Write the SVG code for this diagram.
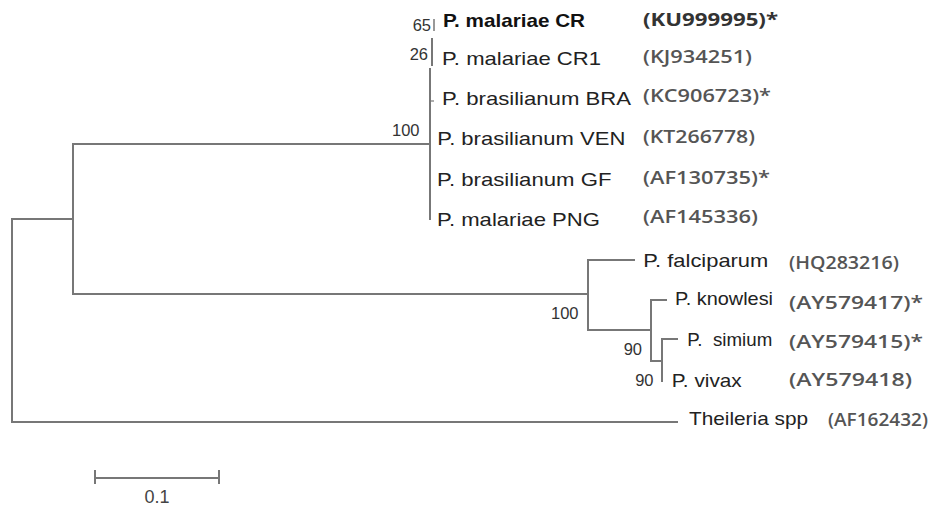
<svg xmlns="http://www.w3.org/2000/svg" width="935" height="508" viewBox="0 0 935 508">
<style>
.br{fill:none;stroke:#777;stroke-width:2}
.sp{font-family:"Liberation Sans",Arial,sans-serif;font-size:18.6px;fill:#222}
.spb{font-family:"Liberation Sans",Arial,sans-serif;font-size:18.6px;font-weight:bold;fill:#111}
.acc{font-family:"Open Sans","Liberation Sans",sans-serif;font-size:18px;font-weight:600;fill:#555}
.acc0{font-family:"Open Sans","Liberation Sans",sans-serif;font-size:18px;font-weight:700;fill:#333}
.bs{font-family:"Liberation Sans",Arial,sans-serif;font-size:16.5px;fill:#333;text-anchor:end}
</style>
<rect width="935" height="508" fill="#fff"/>
<g id="connectors">
<path class="br" d="M73,219 H12 V422 H678"/>
<path class="br" d="M430,144 H73 V294 H588"/>
<path class="br" d="M430,68 V220"/>
<path class="br" d="M430,101 H434" style="stroke-width:1.2"/>
<path class="br" d="M432,38 V66"/>
<path class="br" d="M434,19 V31" style="stroke-width:1.5"/>
<path class="br" d="M635,260 H588 V330 H651"/>
<path class="br" d="M667,300 H651 V361 H663"/>
<path class="br" d="M678,339 H662 V382"/>
</g>
<g id="bootstrap">
<text class="bs" x="431" y="30.5">65</text>
<text class="bs" x="428" y="60">26</text>
<text class="bs" x="419.5" y="136">100</text>
<text class="bs" x="578.5" y="319">100</text>
<text class="bs" x="642" y="355">90</text>
<text class="bs" x="653.5" y="386">90</text>
</g>
<g id="leaf-malariae-CR">
<text class="spb" x="443" y="27" textLength="142" lengthAdjust="spacingAndGlyphs">P. malariae CR</text>
<text class="acc0" x="643" y="25.5" textLength="135" lengthAdjust="spacingAndGlyphs">(KU999995)*</text>
</g>
<g id="leaf-malariae-CR1">
<text class="sp" x="442" y="64.5" textLength="159" lengthAdjust="spacingAndGlyphs">P. malariae CR1</text>
<text class="acc" x="643" y="63" textLength="109" lengthAdjust="spacingAndGlyphs">(KJ934251)</text>
</g>
<g id="leaf-brasilianum-BRA">
<text class="sp" x="442" y="105" textLength="189" lengthAdjust="spacingAndGlyphs">P. brasilianum BRA</text>
<text class="acc" x="643" y="102" textLength="128" lengthAdjust="spacingAndGlyphs">(KC906723)*</text>
</g>
<g id="leaf-brasilianum-VEN">
<text class="sp" x="437.3" y="145" textLength="188" lengthAdjust="spacingAndGlyphs">P. brasilianum VEN</text>
<text class="acc" x="643" y="142.5" textLength="112" lengthAdjust="spacingAndGlyphs">(KT266778)</text>
</g>
<g id="leaf-brasilianum-GF">
<text class="sp" x="437" y="186" textLength="174.5" lengthAdjust="spacingAndGlyphs">P. brasilianum GF</text>
<text class="acc" x="643" y="184" textLength="127" lengthAdjust="spacingAndGlyphs">(AF130735)*</text>
</g>
<g id="leaf-malariae-PNG">
<text class="sp" x="437" y="226" textLength="163" lengthAdjust="spacingAndGlyphs">P. malariae PNG</text>
<text class="acc" x="643" y="222.5" textLength="115" lengthAdjust="spacingAndGlyphs">(AF145336)</text>
</g>
<g id="leaf-falciparum">
<text class="sp" x="643.3" y="267" textLength="125" lengthAdjust="spacingAndGlyphs">P. falciparum</text>
<text class="acc" x="789" y="268.5" textLength="110" lengthAdjust="spacingAndGlyphs">(HQ283216)</text>
</g>
<g id="leaf-knowlesi">
<text class="sp" x="675" y="305" textLength="98" lengthAdjust="spacingAndGlyphs">P. knowlesi</text>
<text class="acc" x="789" y="309" textLength="134" lengthAdjust="spacingAndGlyphs">(AY579417)*</text>
</g>
<g id="leaf-simium">
<text class="sp" x="687.3" y="346" textLength="85" lengthAdjust="spacingAndGlyphs" xml:space="preserve">P.  simium</text>
<text class="acc" x="789" y="347.5" textLength="134" lengthAdjust="spacingAndGlyphs">(AY579415)*</text>
</g>
<g id="leaf-vivax">
<text class="sp" x="671.7" y="386.5" textLength="70" lengthAdjust="spacingAndGlyphs">P. vivax</text>
<text class="acc" x="789" y="386" textLength="123" lengthAdjust="spacingAndGlyphs">(AY579418)</text>
</g>
<g id="leaf-theileria">
<text class="sp" x="689" y="425" textLength="119" lengthAdjust="spacingAndGlyphs">Theileria spp</text>
<text class="acc" x="828" y="426" textLength="100" lengthAdjust="spacingAndGlyphs">(AF162432)</text>
</g>
<g id="scale-bar">
<path class="br" d="M95,478 H219 M95,470 V484 M219,470 V484"/>
<text x="157" y="502.5" text-anchor="middle" style="font-family:'Liberation Sans',Arial,sans-serif;font-size:18px;fill:#444">0.1</text>
</g>
</svg>
